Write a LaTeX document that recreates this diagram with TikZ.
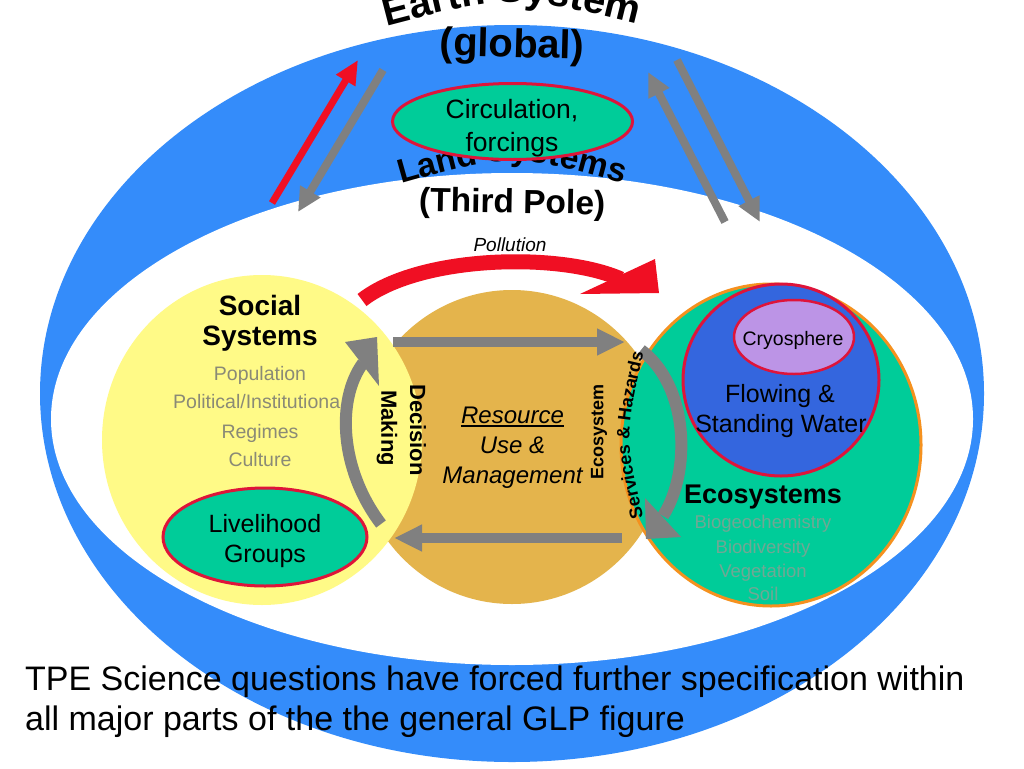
\documentclass[tikz,border=0pt]{standalone}
\usepackage{fontspec}
\setmainfont{Liberation Sans}
\usetikzlibrary{arrows.meta,decorations.text}
\definecolor{ringblue}{RGB}{52,140,250}
\definecolor{circgreen}{RGB}{0,204,153}
\definecolor{bordred}{RGB}{222,20,58}
\definecolor{arrred}{RGB}{240,15,35}
\definecolor{arrgray}{RGB}{128,128,128}
\definecolor{socyellow}{RGB}{255,250,135}
\definecolor{restan}{RGB}{228,180,76}
\definecolor{ecoorange}{RGB}{245,145,30}
\definecolor{waterblue}{RGB}{52,102,222}
\definecolor{cryolav}{RGB}{188,148,230}
\definecolor{socgray}{RGB}{138,138,118}
\definecolor{ecogray}{RGB}{112,168,148}
\newcommand\fsz[1]{\fontsize{#1}{#1}\selectfont}
\newcommand\earthfont{\bfseries\fontsize{40}{40}\selectfont}
\newcommand\landfont{\bfseries\fontsize{33.5}{33.5}\selectfont}
\newcommand\servfont{\bfseries\fontsize{18}{18}\selectfont}
\tikzset{
  lbl/.style={inner sep=0pt, anchor=base},
  redthin/.style={draw=arrred, line width=7pt, -{Triangle[length=24pt,width=21pt]}},
  graythin/.style={draw=arrgray, line width=8pt, -{Triangle[length=24pt,width=22pt]}},
  graymid/.style={draw=arrgray, line width=10pt, -{Triangle[length=28pt,width=25pt]}},
  curvshaft/.style={draw=arrgray, line width=12pt},
  sysname/.style={lbl, font=\bfseries\fsz{28}},
  socitem/.style={lbl, text=socgray, font=\fsz{19.5}},
  ecoitem/.style={lbl, text=ecogray, font=\fsz{18.5}},
  resitem/.style={lbl, font=\itshape\fsz{24}},
  redring/.style={draw=bordred, line width=3pt},
}
\begin{document}
\begin{tikzpicture}[x=1pt,y=-1pt]
\useasboundingbox (0,0) rectangle (1024,768);
\fill[white] (0,0) rectangle (1024,768);
% outer rings
\fill[ringblue] (512,393.5) ellipse [x radius=472, y radius=368.5];
\fill[white] (512,419) ellipse [x radius=461, y radius=246];
% Earth system title
\path[decorate, decoration={text along path, text align=center, text={|\earthfont|Earth System}}] (368,31) .. controls (512,-7) .. (656,29);
\node[lbl, font=\bfseries\fsz{40}, rotate=-1.5] (global) at (512,57) {(global)};
% exchange arrows
\coordinate (ra1) at (272,203); \coordinate (ra2) at (358,60);
\draw[redthin] (ra1) -- (ra2);
\coordinate (ga1) at (383,70); \coordinate (ga2) at (298,212);
\draw[graythin] (ga1) -- (ga2);
\coordinate (gb1) at (725,222); \coordinate (gb2) at (648,72);
\draw[graythin] (gb1) -- (gb2);
\coordinate (gc1) at (677,60); \coordinate (gc2) at (760,222);
\draw[graythin] (gc1) -- (gc2);
% Land systems title (partly hidden)
\path[decorate, decoration={text along path, text align=center, text={|\landfont|Land Systems}}] (386,188) .. controls (512,152) .. (638,188);
\filldraw[fill=circgreen, redring] (512.5,121.5) ellipse [x radius=120, y radius=38];
\node[lbl, font=\fsz{26.5}] (circ1) at (512,118) {Circulation,};
\node[lbl, font=\fsz{26.5}] (circ2) at (512,151) {forcings};
\node[lbl, font=\bfseries\fsz{33.5}, rotate=-1] (third) at (512,213) {(Third Pole)};
% Pollution label
\node[lbl, font=\itshape\fsz{19}] (poll) at (510,251) {Pollution};
% main circles
\fill[restan] (512,447) ellipse [x radius=155, y radius=157];
\fill[socyellow] (262,440) ellipse [x radius=160, y radius=165];
\filldraw[fill=circgreen, draw=ecoorange, line width=3pt] (771,445) ellipse [x radius=150, y radius=161];
\filldraw[fill=waterblue, redring] (781,380) ellipse [x radius=98, y radius=96];
\filldraw[fill=cryolav, redring, line width=2.5pt] (794,337) ellipse [x radius=60, y radius=37];
\filldraw[fill=circgreen, redring] (265,537) ellipse [x radius=102, y radius=49];
% pollution arrow
\coordinate (pa1) at (362,300); \coordinate (pa2) at (621,279);
\draw[draw=arrred, line width=15pt] (pa1) .. controls (420,255) and (560,252) .. (pa2);
\fill[arrred] (580,294) -- (655,259) -- (659,293) -- cycle;
% straight flows
\coordinate (ma1) at (393,342); \coordinate (ma2) at (625,342);
\draw[graymid] (ma1) -- (ma2);
\coordinate (mb1) at (622,538); \coordinate (mb2) at (394,538);
\draw[graymid] (mb1) -- (mb2);
% curved arrows
\coordinate (sa1) at (381,524); \coordinate (sa2) at (363,363);
\draw[curvshaft] (sa1) .. controls (340,470) and (336,400) .. (sa2);
\fill[arrgray] (345,342) -- (377,337) -- (379,386) -- cycle;
\coordinate (ea1) at (641,350); \coordinate (ea2) at (663,516);
\draw[curvshaft] (ea1) .. controls (688,385) and (692,470) .. (ea2);
\fill[arrgray] (645,498) -- (646,539) -- (681,537) -- cycle;
% social systems texts
\node[sysname] (soc1) at (260,315) {Social};
\node[sysname] (soc2) at (260,345) {Systems};
\node[socitem] (pop) at (260,380) {Population};
\node[socitem, anchor=base west] (polit) at (173,408) {Political/Institutiona};
\node[socitem] (reg) at (260,438) {Regimes};
\node[socitem] (cult) at (260,466) {Culture};
\node[lbl, font=\fsz{25}] (liv1) at (265,532) {Livelihood};
\node[lbl, font=\fsz{25}] (liv2) at (265,562) {Groups};
% decision making
\node[font=\bfseries\fsz{22}, inner sep=0pt, rotate=-90] (dec) at (418,430) {Decision};
\node[font=\bfseries\fsz{22}, inner sep=0pt, rotate=-90] (mak) at (387,428) {Making};
% resource use
\node[resitem] (res1) at (512.5,423) {Resource};
\draw[line width=1.3pt] ([yshift=-3pt]res1.base west) -- ([yshift=-3pt]res1.base east);
\node[resitem] (res2) at (512.5,453) {Use \&};
\node[resitem] (res3) at (512.5,483) {Management};
% ecosystem services
\node[font=\servfont, inner sep=0pt, rotate=90] (ecoserv) at (599,432) {Ecosystem};
\path[decorate, decoration={text along path, text align=center, text={|\servfont|Services {\&} Hazards}}] (646,528) .. controls (624,437) .. (646,342);
% ecosystems
\node[lbl, font=\fsz{19.5}] (cryo) at (793,345) {Cryosphere};
\node[lbl, font=\fsz{25}] (wat1) at (780,402) {Flowing \&};
\node[lbl, font=\fsz{25}] (wat2) at (781,432) {Standing Water};
\node[lbl, font=\bfseries\fsz{27}] (eco) at (763,503) {Ecosystems};
\node[ecoitem] (bgc) at (763,528) {Biogeochemistry};
\node[ecoitem] (bio) at (763,553) {Biodiversity};
\node[ecoitem] (veg) at (763,577) {Vegetation};
\node[ecoitem] (soil) at (763,600) {Soil};
% caption
\node[lbl, anchor=base west, font=\fsz{34}] (cap1) at (25,690) {TPE Science questions have forced further specification within};
\node[lbl, anchor=base west, font=\fsz{34}] (cap2) at (25,730) {all major parts of the the general GLP figure};
\end{tikzpicture}
\end{document}
